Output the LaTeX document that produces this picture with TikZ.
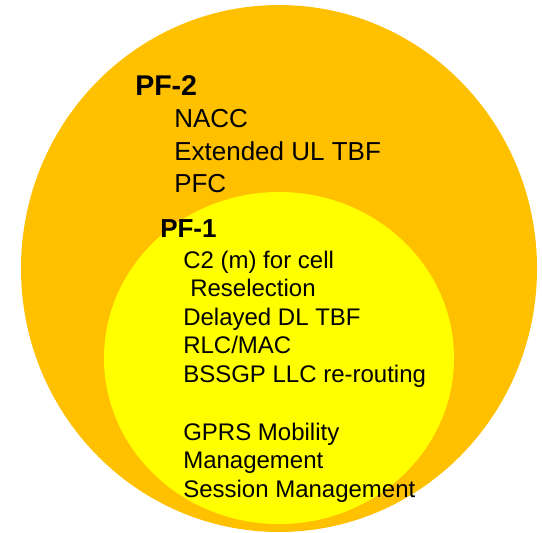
\documentclass[tikz,border=0pt]{standalone}
\usepackage{fontspec}
\setmainfont{Liberation Sans}
\definecolor{pforange}{HTML}{FFC000}
\definecolor{pfyellow}{HTML}{FFFF00}
\tikzset{
  title2/.style={anchor=base west, inner sep=0pt, font=\fontsize{21.4pt}{24pt}\selectfont\bfseries},
  title1/.style={anchor=base west, inner sep=0pt, font=\fontsize{19.5pt}{22pt}\selectfont\bfseries},
  item2/.style={anchor=base west, inner sep=0pt, font=\fontsize{19.5pt}{22pt}\selectfont},
  item1/.style={anchor=base west, inner sep=0pt, font=\fontsize{18pt}{21pt}\selectfont},
}
\begin{document}
\begin{tikzpicture}[x=0.75pt,y=-0.75pt]
\useasboundingbox (0,0) rectangle (542,532);
\fill[pforange] (279,268.5) ellipse [x radius=193.5pt, y radius=197.6pt];
\fill[pfyellow] (279,358) ellipse [x radius=131.25pt, y radius=124.5pt];
\node[title2] (pf2) at (135,95) {PF-2};
\node[item2] (nacc) at (174,127) {NACC};
\node[item2] (ext) at (174,160) {Extended UL TBF};
\node[item2] (pfc) at (174,192) {PFC};
\node[title1] (pf1) at (160,237) {PF-1};
\node[item1] (c2) at (183,268) {C2 (m) for cell};
\node[item1] (resel) at (190,296) {Reselection};
\node[item1] (dl) at (183,325) {Delayed DL TBF};
\node[item1] (rlc) at (183,353) {RLC/MAC};
\node[item1] (bssgp) at (183,382) {BSSGP LLC re-routing};
\node[item1] (gprs) at (183,440) {GPRS Mobility};
\node[item1] (mm) at (183,468) {Management};
\node[item1] (sm) at (183,497) {Session Management};
\end{tikzpicture}
\end{document}
